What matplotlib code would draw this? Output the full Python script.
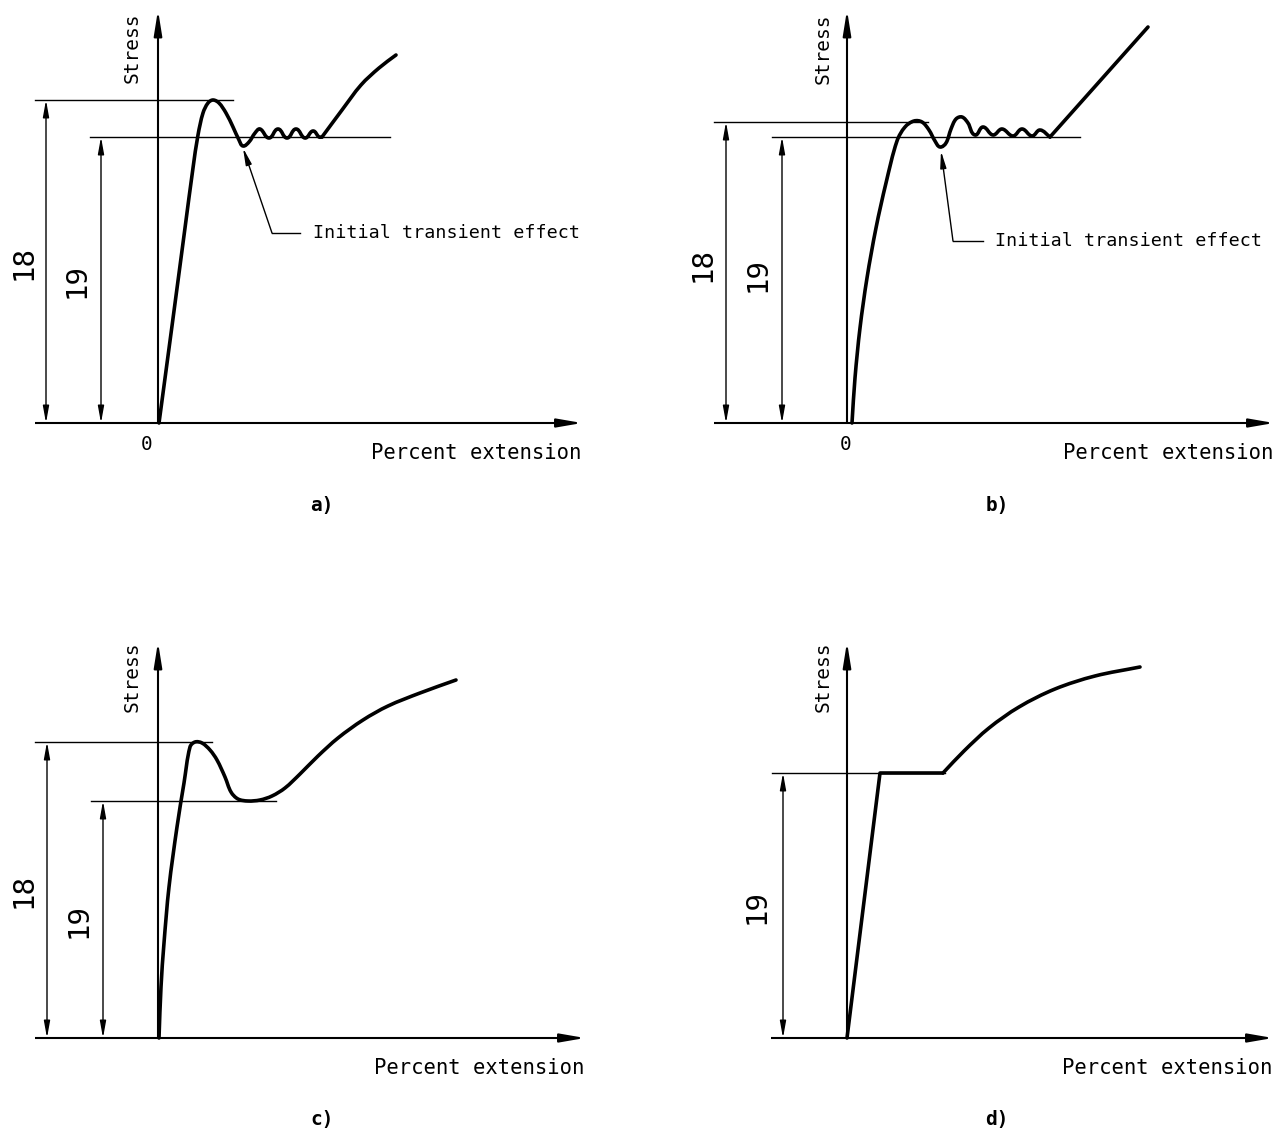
import numpy as np
import matplotlib
matplotlib.use("Agg")
import matplotlib.pyplot as plt
from matplotlib.path import Path
from matplotlib.patches import PathPatch

plt.rcParams['font.family'] = ['DejaVu Sans Mono']

W, H = 1284, 1135
DPI = 100

# each panel: origin of the stress/extension axes in picture pixels,
# and all curve values in pixels measured from that origin (y upward)
PANELS = ['a)', 'b)', 'c)', 'd)']
ORIGINS = [(158, 423), (847, 423), (158, 1038), (847, 1038)]

# panel a
A_X = [1, 14, 27, 35, 40, 45, 50, 55, 61, 68, 75, 81, 85, 91, 97, 102, 111, 120, 129, 138, 147, 155, 161, 164]
A_Y = [0, 97, 195, 255, 288, 310, 320, 323, 320, 310, 296, 283, 277, 281, 290, 294, 285, 294, 285, 294, 285, 292, 286, 286]
A_TAIL_X = [164, 184, 203, 221, 238]
A_TAIL_Y = [286, 313, 338, 355, 368]
A_LEVELS = [323, 286]

# panel b
B_X = [5, 8, 13, 20, 29, 39, 50, 58, 67, 75, 82, 88, 93, 99, 104, 109, 115, 121, 128, 136, 146, 155, 166, 175, 185, 193, 203]
B_Y = [0, 45, 95, 145, 195, 240, 282, 296, 302, 301, 293, 282, 276, 280, 294, 304, 306, 300, 288, 296, 288, 294, 287, 294, 287, 293, 286]
B_TAIL_X = [203, 301]
B_TAIL_Y = [286, 396]
B_LEVELS = [301, 286]

# panel c
C_X = [1, 3, 6, 11, 19, 26, 32, 37, 44, 52, 59, 67, 73, 80, 90, 102, 114, 127, 142, 160, 180, 205, 230, 262, 298]
C_Y = [0, 51, 95, 151, 211, 255, 291, 296, 295, 288, 278, 261, 246, 239, 237, 238, 242, 250, 264, 282, 300, 318, 332, 345, 358]
C_LEVELS = [296, 237]

# panel d
D_RISE_X = [0, 33, 96]
D_RISE_Y = [0, 265, 265]
D_TAIL_X = [96, 117, 142, 172, 208, 248, 293]
D_TAIL_Y = [265, 287, 310, 331, 349, 362, 371]
D_LEVELS = [265]

# horizontal extent of the level lines (left, right) and the dimension columns
LEVEL_SPANS = [[(-123, 75), (-68, 232)],
               [(-133, 81), (-75, 233)],
               [(-123, 54), (-67, 118)],
               [(-75, 98)]]
DIM_X = [[-112, -57], [-121, -65], [-111, -55], [-64]]
DIM_LABELS = [['18', '19'], ['18', '19'], ['18', '19'], ['19']]
DIM_LABEL_POS = [[(-134, 161), (-81, 142)], [(-144, 158), (-89, 148)],
                 [(-134, 148), (-79, 118)], [(-90, 131)]]
X_AXIS = [(-123, 424), (-133, 427), (-123, 427), (-76, 426)]
Y_TOP = [413, 413, 396, 396]
STRESS_POS = [(-26, 375), (-24, 374), (-26, 361), (-24, 361)]
ZERO_POS = [(-11, -21), (-1, -21), None, None]

# leader "Initial transient effect": tip, corner, end, text start
LEADERS = [((85, 275), (114, 190), (142, 190), (155, 190)),
           ((94, 272), (106, 182), (136, 182), (148, 182)),
           None, None]

XL, XR, YB, YT = -150, 430, -95, 415

CURVE_LW = 2.6
AXIS_LW = 1.5
THIN_LW = 1.0


def smooth_path(xs, ys):
    # cubic Bezier through the points, tangents from neighbours,
    # handle length a third of each chord
    p = np.column_stack([xs, ys]).astype(float)
    n = len(p)
    tang = np.zeros_like(p)
    for i in range(n):
        a = p[max(i - 1, 0)]
        b = p[min(i + 1, n - 1)]
        d = b - a
        tang[i] = d / np.hypot(*d)
    verts = [p[0]]
    codes = [Path.MOVETO]
    for i in range(n - 1):
        L = np.hypot(*(p[i + 1] - p[i])) / 3
        verts += [p[i] + tang[i] * L, p[i + 1] - tang[i + 1] * L, p[i + 1]]
        codes += [Path.CURVE4] * 3
    return Path(verts, codes)


def curve(ax, xs, ys, smooth=True):
    if smooth:
        ax.add_patch(PathPatch(smooth_path(xs, ys), fill=False, lw=CURVE_LW,
                               edgecolor='black', capstyle='round', joinstyle='round'))
    else:
        ax.plot(xs, ys, color='black', lw=CURVE_LW, solid_capstyle='round',
                solid_joinstyle='round')


def arrow(ax, start, end, style, lw):
    ax.annotate('', xy=end, xytext=start,
                arrowprops=dict(arrowstyle=style, lw=lw, color='black',
                                shrinkA=0, shrinkB=0, mutation_scale=1))


fig = plt.figure(figsize=(W / DPI, H / DPI), dpi=DPI)

curves = [[(A_X, A_Y, True), (A_TAIL_X, A_TAIL_Y, True)],
          [(B_X, B_Y, True), (B_TAIL_X, B_TAIL_Y, False)],
          [(C_X, C_Y, True)],
          [(D_RISE_X, D_RISE_Y, False), (D_TAIL_X, D_TAIL_Y, True)]]
levels = [A_LEVELS, B_LEVELS, C_LEVELS, D_LEVELS]

for k, (ox, oy) in enumerate(ORIGINS):
    left = ox + XL
    top = oy - YT
    ax = fig.add_axes([left / W, 1 - (top + (YT - YB)) / H,
                       (XR - XL) / W, (YT - YB) / H])
    ax.set_xlim(XL, XR)
    ax.set_ylim(YB, YT)
    ax.axis('off')

    # axes with arrows
    x0, x1 = X_AXIS[k]
    ax.plot([x0, 0], [0, 0], color='black', lw=AXIS_LW, solid_capstyle='butt')
    arrow(ax, (0, 0), (x1, 0), '-|>,head_length=15,head_width=2.6', AXIS_LW)
    arrow(ax, (0, 0), (0, Y_TOP[k]), '-|>,head_length=15,head_width=2.4', AXIS_LW)

    # level lines
    for lev, (l0, l1) in zip(levels[k], LEVEL_SPANS[k]):
        ax.plot([l0, l1], [lev, lev], color='black', lw=THIN_LW)

    # dimension lines
    for dx, lev, lab, (tx, ty) in zip(DIM_X[k], levels[k], DIM_LABELS[k], DIM_LABEL_POS[k]):
        arrow(ax, (dx, 0), (dx, lev), '<|-|>,head_length=10,head_width=1.8', THIN_LW)
        ax.text(tx, ty, lab, rotation=90, ha='center', va='center', fontsize=21)

    for xs, ys, sm in curves[k]:
        curve(ax, xs, ys, sm)

    if LEADERS[k] is not None:
        tip, corner, end, txt = LEADERS[k]
        ax.plot([end[0], corner[0]], [end[1], corner[1]], color='black', lw=THIN_LW)
        arrow(ax, corner, tip, '-|>,head_length=10,head_width=1.8', THIN_LW)
        ax.text(txt[0], txt[1], 'Initial transient effect', ha='left', va='center',
                fontsize=13.2)

    sx, sy = STRESS_POS[k]
    ax.text(sx, sy, 'Stress', rotation=90, ha='center', va='center', fontsize=14)
    if ZERO_POS[k] is not None:
        ax.text(ZERO_POS[k][0], ZERO_POS[k][1], '0', ha='center', va='center', fontsize=14)
    ax.text(x1 - 1, -30, 'Percent extension', ha='right', va='center', fontsize=14.8)
    ax.text(164 if k % 2 == 0 else 150, -82, PANELS[k], ha='center', va='center',
            fontsize=14, fontweight='bold')

fig.savefig('out.png', dpi=DPI)
